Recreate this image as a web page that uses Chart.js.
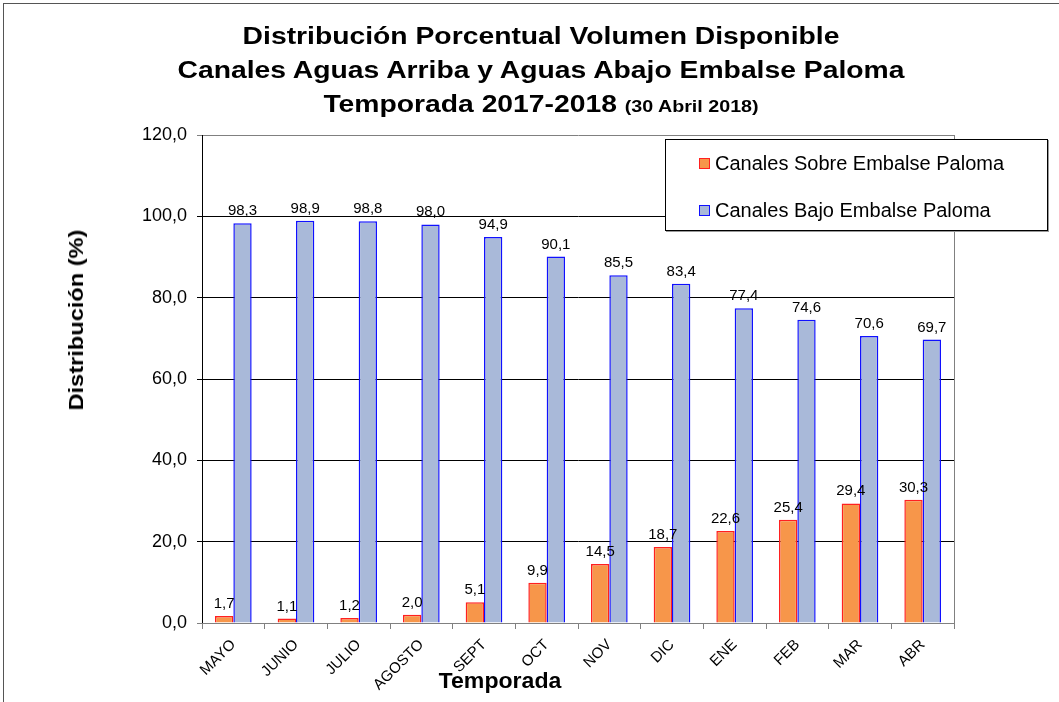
<!DOCTYPE html>
<html>
<head>
<meta charset="utf-8">
<script src="https://cdn.jsdelivr.net/npm/chart.js@4.4.0/dist/chart.umd.min.js"></script>
<style>
    body { margin: 0; background: #fff; }
    #wrap { position: relative; width: 1059px; height: 702px; overflow: hidden; font-family: 'Liberation Sans', Arial, sans-serif; color: #000; }
    #chart { position: absolute; left: 0; top: 0; }
    .frame { position: absolute; left: 3px; top: 3px; right: -5px; bottom: -5px; border-top: 1px solid #555; border-left: 1px solid #555; }
    .title-line { position: absolute; left: 541px; font-weight: bold; font-size: 23px; line-height: 22px; white-space: nowrap; transform: translateX(-50%) scaleX(1.23); }
    .title-line small { font-size: 16px; }
    .axis-title { position: absolute; font-weight: bold; white-space: nowrap; }
    #legend { position: absolute; left: 665px; top: 139px; width: 383px; height: 92px; box-sizing: border-box; border: 1px solid #000; background: #fff; box-shadow: 1px 1px 0 #999; }
    .legend-item { position: absolute; left: 33px; font-size: 20px; line-height: 20px; white-space: nowrap; }
    .legend-item i { display: inline-block; width: 9px; height: 9px; margin-right: 5px; vertical-align: 1px; }
</style>
</head>
<body>
<div id="wrap">
    <div class="frame"></div>
    <canvas id="chart" width="1059" height="702"></canvas>

    <div class="title-line" style="top: 25px;">Distribución Porcentual Volumen Disponible</div>
    <div class="title-line" style="top: 59px;">Canales Aguas Arriba y Aguas Abajo Embalse Paloma</div>
    <div class="title-line" style="top: 93px;">Temporada 2017-2018 <small>(30 Abril 2018)</small></div>

    <div class="axis-title" style="left: 76px; top: 320px; font-size: 20px; line-height: 20px; transform: translate(-50%, -50%) rotate(-90deg) scaleX(1.18);">Distribución (%)</div>
    <div class="axis-title" style="left: 500px; top: 670px; font-size: 22px; line-height: 22px; transform: translateX(-50%) scaleX(1.05);">Temporada</div>

    <div id="legend">
        <div class="legend-item" style="top: 13px;"><i style="background:#F7964A; border:1px solid #FF2020;"></i>Canales Sobre Embalse Paloma</div>
        <div class="legend-item" style="top: 60px;"><i style="background:#A9B9D9; border:1px solid #1010FF;"></i>Canales Bajo Embalse Paloma</div>
    </div>
</div>

<script>
    const months = ['MAYO', 'JUNIO', 'JULIO', 'AGOSTO', 'SEPT', 'OCT', 'NOV', 'DIC', 'ENE', 'FEB', 'MAR', 'ABR'];
    const sobreEmbalse = [1.7, 1.1, 1.2, 2.0, 5.1, 9.9, 14.5, 18.7, 22.6, 25.4, 29.4, 30.3];
    const bajoEmbalse = [98.3, 98.9, 98.8, 98.0, 94.9, 90.1, 85.5, 83.4, 77.4, 74.6, 70.6, 69.7];
    const yTicks = [0, 20, 40, 60, 80, 100, 120];

    const fontFamily = "'Liberation Sans', Arial, sans-serif";

    function formatComma(value) {
        return Number(value).toFixed(1).replace('.', ',');
    }

    // value labels above each bar
    const barLabels = {
        id: 'barLabels',
        afterDatasetsDraw(chart) {
            const ctx = chart.ctx;
            ctx.save();
            ctx.font = '15px ' + fontFamily;
            ctx.fillStyle = '#000';
            ctx.textAlign = 'center';
            ctx.textBaseline = 'alphabetic';
            chart.data.datasets.forEach((ds, i) => {
                chart.getDatasetMeta(i).data.forEach((bar, j) => {
                    ctx.fillText(formatComma(ds.data[j]), bar.x, bar.y - 8);
                });
            });
            ctx.restore();
        }
    };

    // grey right edge of the plot area
    const plotEdge = {
        id: 'plotEdge',
        beforeDatasetsDraw(chart) {
            const { ctx, chartArea } = chart;
            const x = Math.round(chartArea.right) + 0.5;
            ctx.save();
            ctx.strokeStyle = '#808080';
            ctx.lineWidth = 1;
            ctx.beginPath();
            ctx.moveTo(x, chartArea.top);
            ctx.lineTo(x, chartArea.bottom);
            ctx.stroke();
            ctx.restore();
        }
    };

    new Chart(document.getElementById('chart').getContext('2d'), {
        type: 'bar',
        data: {
            labels: months,
            datasets: [{
                label: 'Canales Sobre Embalse Paloma',
                data: sobreEmbalse,
                backgroundColor: '#F7964A',
                borderColor: '#FF2020',
                borderWidth: 1.5,
                borderSkipped: 'start',
                categoryPercentage: 0.585,
                barPercentage: 1
            }, {
                label: 'Canales Bajo Embalse Paloma',
                data: bajoEmbalse,
                backgroundColor: '#A9B9D9',
                borderColor: '#1010FF',
                borderWidth: 1.5,
                borderSkipped: 'start',
                categoryPercentage: 0.585,
                barPercentage: 1
            }]
        },
        options: {
            responsive: false,
            animation: false,
            layout: { padding: { top: 135, right: 105, left: 0, bottom: 0 } },
            plugins: {
                legend: { display: false },
                title: { display: false },
                tooltip: { enabled: false }
            },
            scales: {
                x: {
                    afterFit: scale => { scale.height = 79; },
                    border: { color: '#808080', width: 1, z: 1 },
                    grid: { offset: true, drawOnChartArea: false, color: '#808080', tickLength: 6 },
                    ticks: {
                        color: '#000',
                        font: { family: fontFamily, size: 15 },
                        minRotation: 45,
                        maxRotation: 45,
                        autoSkip: false,
                        padding: 7
                    }
                },
                y: {
                    min: 0,
                    max: 120,
                    afterFit: scale => { scale.width = 202; },
                    afterBuildTicks: scale => { scale.ticks = yTicks.map(v => ({ value: v })); },
                    border: { color: '#000', width: 1 },
                    grid: {
                        color: c => (c.tick && (c.tick.value === 0 || c.tick.value === 120)) ? '#808080' : '#000',
                        tickLength: 5
                    },
                    ticks: {
                        color: '#000',
                        font: { family: fontFamily, size: 18 },
                        padding: 10,
                        callback: value => formatComma(value)
                    }
                }
            }
        },
        plugins: [barLabels, plotEdge]
    });
</script>
</body>
</html>
